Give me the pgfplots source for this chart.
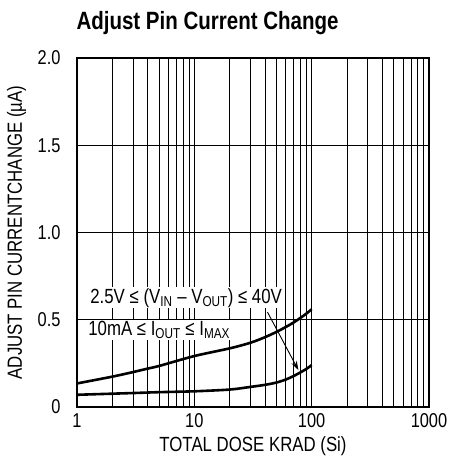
\documentclass[border=0pt]{standalone}
\usepackage{fontspec}
\setmainfont[FakeStretch=0.82]{Liberation Sans}
\usepackage{pgfplots}
\pgfplotsset{compat=1.18}
\usetikzlibrary{arrows.meta}
\begin{document}
\begin{tikzpicture}
\begin{axis}[
  scale only axis, width=352pt, height=349pt,
  xmode=log, xmin=1, xmax=1000, ymin=0, ymax=2.0,
  log basis x=10,
  xtick={1,10,100,1000}, xticklabels={1,10,100,1000},
  ytick={0,0.5,1.0,1.5,2.0}, yticklabels={0,0.5,1.0,1.5,2.0},
  minor xtick={2,3,4,5,6,7,8,9,20,30,40,50,60,70,80,90,200,300,400,500,600,700,800,900},
  xmajorgrids, xminorgrids, ymajorgrids,
  grid style={black, line width=0.6pt},
  minor grid style={black, line width=0.6pt},
  major tick length=0pt, minor tick length=0pt,
  axis line style={line width=1.2pt},
  tick label style={font=\fontsize{20}{20}\selectfont},
  xticklabel style={yshift=-3pt},
  yticklabel style={xshift=-13pt},
  xlabel={TOTAL DOSE KRAD (Si)},
  ylabel={ADJUST PIN CURRENTCHANGE (\textmu A)},
  label style={font=\fontsize{20.5}{20.5}\selectfont},
  xlabel style={yshift=-2pt},
  ylabel style={at={(axis description cs:-0.172,0.5)}, anchor=center},
  title={\bfseries Adjust Pin Current Change},
  title style={font=\fontsize{25}{25}\selectfont, at={(rel axis cs:0,1)}, anchor=south west, yshift=14pt, xshift=-4pt},
  clip=false,
]
\addplot[black, line width=2.6pt, smooth] coordinates {
 (1,0.135) (2,0.174) (3,0.2) (4,0.22) (5,0.235) (10,0.292) (20,0.336) (30,0.368) (40,0.40) (50,0.43) (60,0.458) (70,0.484) (80,0.51) (90,0.535) (100,0.56)
};
\addplot[black, line width=2.6pt, smooth] coordinates {
 (1,0.07) (3,0.08) (5,0.085) (10,0.09) (20,0.10) (30,0.115) (40,0.127) (50,0.14) (60,0.157) (70,0.177) (80,0.198) (90,0.218) (100,0.24)
};
\node[fill=white, inner sep=1pt, anchor=west, font=\fontsize{20.5}{20.5}\selectfont] at (axis cs:1.27,0.625) {2.5V ≤ (V\textsubscript{IN} – V\textsubscript{OUT}) ≤ 40V};
\node[fill=white, inner sep=1pt, anchor=west, font=\fontsize{20.5}{20.5}\selectfont] at (axis cs:1.22,0.44) {10mA ≤ I\textsubscript{OUT} ≤ I\textsubscript{MAX}};
\draw[-{Stealth[length=9pt,width=6pt]}, line width=0.9pt] (axis cs:42,0.544) -- (axis cs:77,0.212);
\path (rel axis cs:0,0) -- ++(-77pt,-53pt);
\path (rel axis cs:1,1) -- ++(20pt,58pt);
\end{axis}
\end{tikzpicture}
\end{document}
